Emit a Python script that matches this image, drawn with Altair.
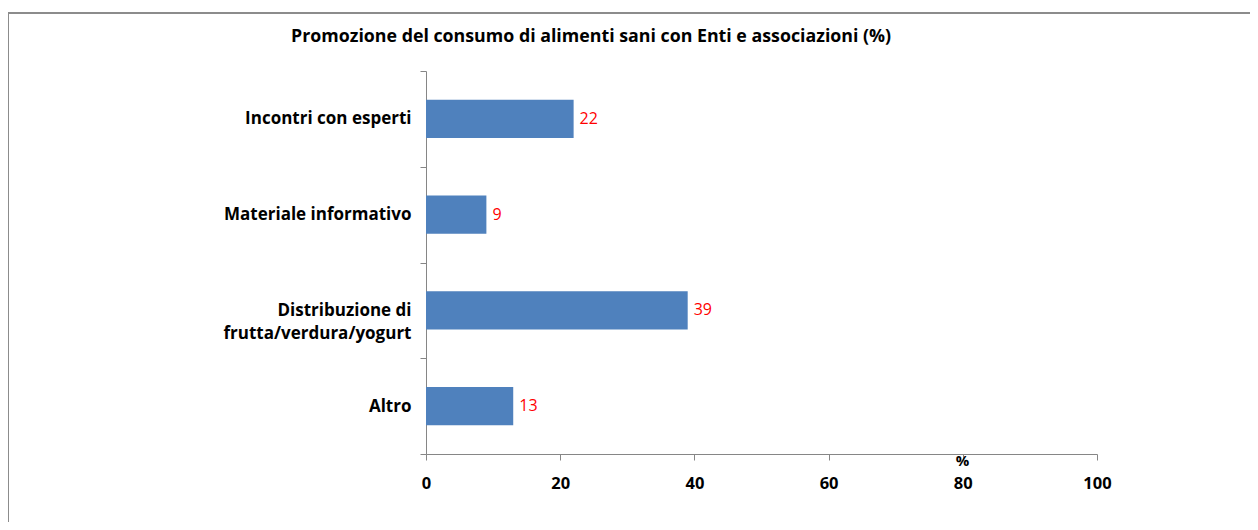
import altair as alt
import pandas as pd

categories = ["Incontri con esperti", "Materiale informativo",
              "Distribuzione di|frutta/verdura/yogurt", "Altro"]
values = [22, 9, 39, 13]
x_ticks = [0, 20, 40, 60, 80, 100]
title_text = "Promozione del consumo di alimenti sani con Enti e associazioni (%)"

df = pd.DataFrame({"cat": categories, "val": values})

FONT = "Open Sans"
W, H = 671, 383

y_enc = alt.Y("cat:N", sort=categories,
              scale=alt.Scale(paddingInner=0, paddingOuter=0),
              axis=alt.Axis(title=None, tickBand="extent", tickSize=6,
                            labelPadding=9, labelFontSize=17, labelFontWeight="bold",
                            labelFont=FONT, labelColor="#000000", labelAlign="right",
                            labelLimit=400,
                            labelExpr="split(datum.label, '|')", labelLineHeight=23,
                            domainColor="#868686", tickColor="#868686", grid=False))
x_enc = alt.X("val:Q", scale=alt.Scale(domain=[0, 100], nice=False),
              axis=alt.Axis(values=x_ticks, title="%", titleX=536, titleY=6,
                            titleBaseline="middle", titleAlign="center",
                            titleFont=FONT, titleFontSize=15, titleFontWeight="bold",
                            titleColor="#000000", tickSize=6, labelPadding=15,
                            labelFlush=False,
                            labelFontSize=16.5, labelFontWeight="bold", labelFont=FONT,
                            labelColor="#000000", domainColor="#868686",
                            tickColor="#868686", grid=False))

border = alt.Chart(pd.DataFrame({"a": [0]})).mark_rect(
    fill=None, stroke="#8c8c8c", strokeWidth=2
).encode(x=alt.value(-418), x2=alt.value(W + 200), y=alt.value(-58), y2=alt.value(H + 200))

title = alt.Chart(pd.DataFrame({"t": [title_text]})).mark_text(
    align="left", baseline="alphabetic", fontSize=17.8, fontWeight="bold",
    font=FONT, color="#000000"
).encode(x=alt.value(-135), y=alt.value(-29), text="t:N")

bars = alt.Chart(df).mark_bar(color="#4F81BD", height=alt.RelativeBandSize(0.4)).encode(
    y=y_enc, x=x_enc)
labels = alt.Chart(df).mark_text(align="left", baseline="middle", dx=6,
                                 color="#FF0000", fontSize=16, font=FONT).encode(
    y=alt.Y("cat:N", sort=categories), x="val:Q", text="val:Q")

chart = alt.layer(border, title, bars, labels).properties(
    width=W, height=H,
    autosize=alt.AutoSizeParams(type="none"),
    padding={"left": 418, "top": 63, "right": 153, "bottom": 68},
).configure_view(stroke=None)

chart.save("out.html", embed_options={"renderer": "svg", "actions": False})
